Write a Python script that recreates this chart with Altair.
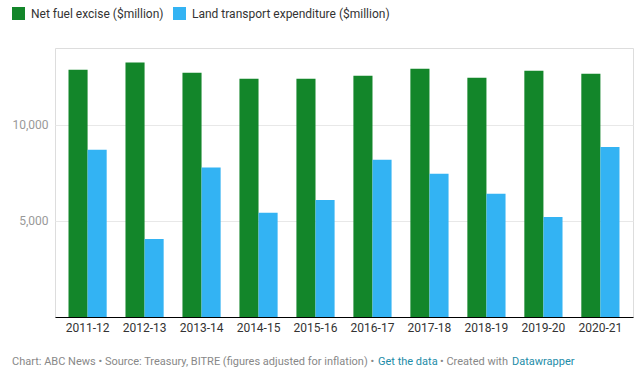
import altair as alt
import pandas as pd

years = ["2011-12", "2012-13", "2013-14", "2014-15", "2015-16",
         "2016-17", "2017-18", "2018-19", "2019-20", "2020-21"]
excise = [12870, 13250, 12710, 12400, 12400, 12550, 12920, 12450, 12810, 12660]
transport = [8710, 4060, 7780, 5420, 6090, 8180, 7450, 6410, 5210, 8850]
series = ["Net fuel excise ($million)", "Land transport expenditure ($million)"]
colors = ["#13862a", "#33b3f3"]

rows = []
for y, a, b in zip(years, excise, transport):
    rows.append({"year": y, "series": series[0], "value": a})
    rows.append({"year": y, "series": series[1], "value": b})
df = pd.DataFrame(rows)

FONT = "Roboto"

bars = alt.Chart(df).mark_bar().encode(
    x=alt.X("year:N", sort=years, title=None,
            scale=alt.Scale(paddingInner=0.33, paddingOuter=0.237),
            axis=alt.Axis(labelAngle=0, ticks=False, domainColor="#000000", domainWidth=1,
                          labelColor="#333333", labelFontSize=12, labelFont=FONT,
                          labelPadding=5, grid=False)),
    xOffset=alt.XOffset("series:N", sort=series, scale=alt.Scale(paddingInner=0, paddingOuter=0)),
    y=alt.Y("value:Q", title=None, scale=alt.Scale(domain=[0, 14000], nice=False),
            axis=alt.Axis(values=[5000, 10000], format=",.0f", ticks=False, domain=False,
                          labelColor="#999999", labelFontSize=12, labelFont=FONT,
                          labelPadding=7, gridColor="#e8e8e8")),
    color=alt.Color("series:N", sort=series,
                    scale=alt.Scale(domain=series, range=colors),
                    legend=alt.Legend(title=None, orient="none", legendX=-43, legendY=-41,
                                      direction="horizontal", symbolType="square",
                                      symbolSize=169, symbolStrokeWidth=0, symbolOpacity=1,
                                      labelFontSize=12, labelFont=FONT, labelColor="#333333",
                                      labelOffset=6, columnPadding=9, labelLimit=0)),
)

foot_gray = "#888888"
foot_teal = "#1d8ca8"
footer_texts = [
    ("Chart: ABC News \u2022 Source: Treasury, BITRE (figures adjusted for inflation) \u2022", -43, foot_gray),
    ("Get the data", 323, foot_teal),
    ("\u2022 Created with", 385, foot_gray),
    ("Datawrapper", 457, foot_teal),
]
layers = [bars]
for txt, xv, col in footer_texts:
    layers.append(
        alt.Chart(pd.DataFrame({"t": [txt]})).mark_text(
            align="left", baseline="middle", fontSize=11, font=FONT, color=col
        ).encode(text="t:N", x=alt.value(xv), y=alt.value(314))
    )

chart = alt.layer(*layers).properties(
    width=578, height=269,
    autosize=alt.AutoSizeParams(type="none"),
    padding={"left": 55, "top": 48, "right": 9, "bottom": 60},
).configure_view(stroke=None).configure(font=FONT)

chart.save("out.html", embed_options={"renderer": "svg", "actions": False})
